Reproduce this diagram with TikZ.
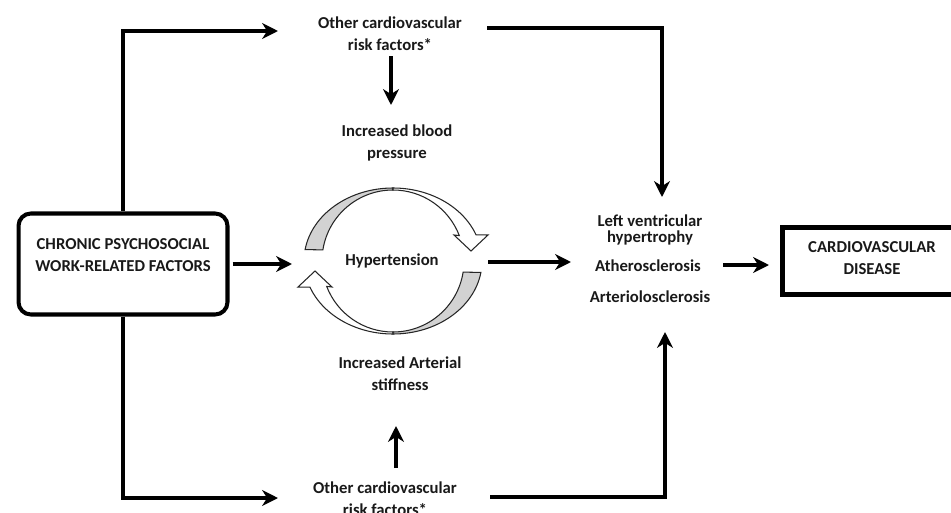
\documentclass[tikz,border=0pt]{standalone}
\usepackage{fontspec}
\setmainfont{Carlito}
\usetikzlibrary{arrows.meta,calc}
\def\cyclearrow{%
  \filldraw[ribbon, fill=gray!35] ($(cyc)+(171:89 and 73)$) arc[start angle=171, end angle=90, x radius=89, y radius=73]
    -- ($(cyc)+(90:71 and 71)$) arc[start angle=90, end angle=171, radius=71] -- cycle;
  \filldraw[ribbon, fill=white] ($(cyc)+(90:89 and 73)$) arc[start angle=90, end angle=21, x radius=89, y radius=73]
    -- ($(cyc)+(95,26)$) -- ($(cyc)+(78,10)$) -- ($(cyc)+(61,26)$)
    -- ($(cyc)+(21:71 and 71)$) arc[start angle=21, end angle=90, radius=71] -- cycle;}

\tikzset{
  txt/.style={align=center, inner sep=1pt, text=black!90, font=\fontsize{9.5}{12.5}\selectfont\bfseries},
  wire/.style={line width=1.8pt},
  flow/.style={wire, -{Stealth[length=9pt, width=9pt, inset=2.8pt]}},
  ribbon/.style={line width=0.6pt, draw=black!85},
}

\begin{document}
\begin{tikzpicture}[x=0.02cm, y=0.02cm]
		%%%%% START %%%%%
		\useasboundingbox (0,0) rectangle (951,512);
		
		\node[draw, line width=2.3pt, rounded corners=7pt, minimum width=4.18cm, minimum height=2.02cm,
		  label={[txt, yshift=0.18cm]center:CHRONIC PSYCHOSOCIAL\\WORK-RELATED FACTORS}] (chronic) at (123,248) {};
		\node[draw, line width=2.9pt, minimum width=3.9cm, minimum height=1.34cm,
		  label={[txt, xshift=-0.16cm, yshift=0.06cm]center:CARDIOVASCULAR\\DISEASE}] (cvd) at (880,251) {};
		
		\node[txt] (topfactors) at (390,478) {Other cardiovascular\\risk factors*};
		\node[txt] (bloodp) at (397,369) {Increased blood\\pressure};
		\node[txt] (hyper) at (392,251) {Hypertension};
		\node[txt] (stiff) at (400,138) {Increased Arterial\\stiffness};
		\node[txt] (botfactors) at (385,13) {Other cardiovascular\\risk factors*};
		
		\node[txt, font=\fontsize{9.5}{9}\selectfont\bfseries] (lvh) at (650,282) {Left ventricular\\hypertrophy};
		\node[txt] (athero) at (648,246) {Atherosclerosis};
		\node[txt] (arterio) at (650,215) {Arteriolosclerosis};
		
		% the hypertension cycle
		\coordinate (cyc) at (393,251);
		\cyclearrow
		\begin{scope}[rotate around={180:(cyc)}]
			\cyclearrow
		\end{scope}
		
		\coordinate (toptip) at (278,481);
		\coordinate (bottip) at (278,14);
		\coordinate (topstart) at (487,484);
		\coordinate (lvhin) at (662,315);
		\coordinate (botstart) at (490,15);
		\coordinate (arterioin) at (665,180);
		\coordinate (bpout) at (391,456);
		\coordinate (bpin) at (391,407);
		\coordinate (stout) at (396,44);
		\coordinate (stin) at (396,86);
		\coordinate (hyperin) at (292,248);
		\coordinate (hyperout) at (488,250);
		\coordinate (lvhleft) at (571,250);
		\coordinate (cvdout) at (723,247);
		\coordinate (cvdin) at (769,247);
		
		\draw[flow] (chronic.north) |- (toptip);
		\draw[flow] (chronic.south) |- (bottip);
		\draw[flow] (topstart) -| (lvhin);
		\draw[flow] (botstart) -| (arterioin);
		\draw[flow] (bpout) -- (bpin);
		\draw[flow] (stout) -- (stin);
		
		\draw[flow] (chronic.east) ++(3,0) -- (hyperin);
		\draw[flow] (hyperout) -- (lvhleft);
		\draw[flow] (cvdout) -- (cvdin);
		
		%%%%% END %%%%%
\end{tikzpicture}
\end{document}
